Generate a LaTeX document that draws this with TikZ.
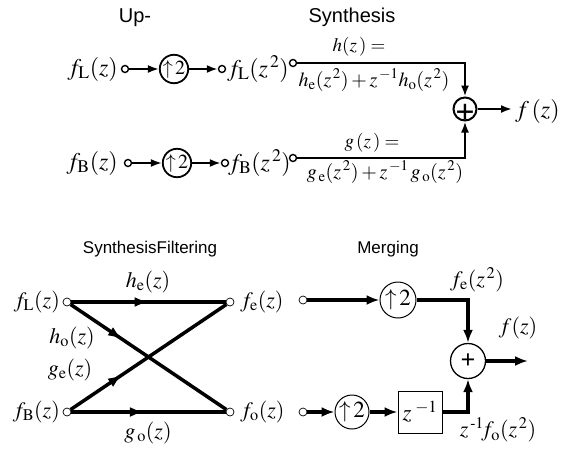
\documentclass[tikz,border=0pt]{standalone}
\usepackage{mathptmx}
\usepackage{fontspec}
\setmainfont{Liberation Serif}
\setsansfont{Liberation Sans}
\usetikzlibrary{arrows.meta,positioning,calc,decorations.markings}
\newcommand{\fsz}[1]{\fontsize{#1}{#1}\selectfont}
\tikzset{
  port/.style={circle,draw,fill=white,inner sep=0pt,minimum size=7pt,line width=1.4pt},
  thinport/.style={circle,draw,fill=white,inner sep=0pt,minimum size=8pt,line width=0.7pt},
  upsampler/.style={circle,draw,inner sep=0pt,minimum size=#1},
  flow/.style={-{Latex[length=11pt,width=8pt]},line width=2pt},
  heavyflow/.style={-{Latex[length=13pt,width=10pt]},line width=3.3pt},
  branch/.style={line width=3.5pt,postaction={decorate},
    decoration={markings,mark=at position #1 with {\arrow{Latex[length=14pt,width=10pt]}}}},
  heading/.style={font=\sffamily\fsz{20},inner sep=0pt,anchor=base},
  sig/.style={inner sep=0pt,font=\fsz{#1}}
}

\begin{document}
\begin{tikzpicture}[x=1pt,y=-1pt,
  adder/.style={circle,draw,inner sep=0pt,minimum size=#1},
  delaybox/.style={rectangle,draw,line width=1pt,minimum width=44pt,minimum height=42pt,inner sep=0pt}
]
  \useasboundingbox (0,0) rectangle (561,453);
  % up-sampling and synthesis
  \node[heading] (uptitle) at (135,22) {Up-};
  \node[heading] (syntitle) at (352,22) {Synthesis};
  \node[sig=24,anchor=east] (fLin) at (118,69) {$f_{\mathrm L}(z)$};
  \node[port] (pLin) at (125,69) {};
  \node[upsampler=28pt,line width=1.8pt,font=\fsz{20}] (upL) at (174,69) {$\uparrow\!2$};
  \node[port] (pLup) at (222,69) {};
  \node[sig=24,anchor=west] (fLup) at (227,69) {$f_{\mathrm L}(z^{\,2})$};
  \node[port] (pH) at (293,63) {};
  \node[sig=19] (hdef) at (359,47) {$h(z\,)=$};
  \node[sig=20] (hexpr) at (374,80) {$h_{\mathrm e}(z^{\,2})+z^{\,-1}h_{\mathrm o}(z^{\,2})$};
  \node[sig=24,anchor=east] (fBin) at (118,163) {$f_{\mathrm B}(z)$};
  \node[port] (pBin) at (128,163) {};
  \node[upsampler=28pt,line width=1.8pt,font=\fsz{20}] (upB) at (177,163) {$\uparrow\!2$};
  \node[port] (pBup) at (225,163) {};
  \node[sig=24,anchor=west] (fBup) at (228,163) {$f_{\mathrm B}(z^{\,2})$};
  \node[port] (pG) at (293,158) {};
  \node[sig=19] (gdef) at (372,143) {$g\,(z\,)=$};
  \node[sig=20] (gexpr) at (385,172) {$g_{\,\mathrm e}(z^{\,2})+z^{\,-1}\,g_{\,\mathrm o}(z^{\,2})$};
  \node[adder=23pt,line width=2pt] (sumtop) at (465,109) {\raisebox{-14pt}[0pt][0pt]{\scalebox{1.7}{\fsz{20}\textbf{+}}}};
  \coordinate (outtop) at (512,109);
  \node[sig=24,anchor=west] (ftop) at (515,111) {$f\,(z)$};
  \draw[flow] (pLin) -- (upL);
  \draw[flow] (upL) -- (pLup);
  \draw[flow] (pBin) -- (upB);
  \draw[flow] (upB) -- (pBup);
  \draw[flow] (pH) -| (sumtop);
  \draw[flow] (pG) -| (sumtop);
  \draw[flow] (sumtop) -- (outtop);
  % synthesis filtering
  \node[heading,font=\sffamily\fsz{17}] (filttitle) at (150,253) {SynthesisFiltering};
  \node[thinport] (pL) at (67,302) {};
  \node[sig=22,anchor=east] (fL) at (60,302) {$f_{\mathrm L}(z)$};
  \node[thinport] (pE) at (230,302) {};
  \node[sig=22,anchor=west] (fE) at (240,302) {$f_{\mathrm e}(z)$};
  \node[thinport] (pB) at (67,412) {};
  \node[sig=22,anchor=east] (fB) at (60,412) {$f_{\mathrm B}(z)$};
  \node[thinport] (pO) at (230,412) {};
  \node[sig=22,anchor=west] (fO) at (240,412) {$f_{\mathrm o}(z)$};
  \draw[branch=0.5] (pL) -- (pE);
  \draw[branch=0.33] (pL) -- (pO);
  \draw[branch=0.33] (pB) -- (pE);
  \draw[branch=0.47] (pB) -- (pO);
  \node[sig=22] (he) at (148,282) {$h_{\mathrm e}(z)$};
  \node[sig=22] (ho) at (72,338) {$h_{\mathrm o}(z)$};
  \node[sig=22] (ge) at (70,370) {$g_{\mathrm e}(z)$};
  \node[sig=22] (go) at (148,433) {$g_{\,\mathrm o}(z)$};
  % merging
  \node[heading,font=\sffamily\fsz{17}] (mergetitle) at (388,253) {Merging};
  \node[thinport] (pE2) at (303,300) {};
  \node[upsampler=36pt,line width=1pt,font=\fsz{23}] (upE) at (398,300) {$\uparrow\!2$};
  \node[thinport] (pO2) at (303,412) {};
  \node[upsampler=34pt,line width=1pt,font=\fsz{23}] (upO) at (352,412) {$\uparrow\!2$};
  \node[delaybox,font=\fsz{23}] (delay) at (420,412) {$z^{\;-1}$};
  \node[adder=35pt,line width=1.3pt] (sumbot) at (468,361) {\scalebox{1.3}{\fsz{20}\textbf{+}}};
  \coordinate (outbot) at (528,361);
  \node[sig=22] (fE2) at (477,280) {$f_{\mathrm e}(z^{\,2})$};
  \node[sig=22] (fbot) at (518,328) {$f(z)$};
  \node[sig=22] (fO2) at (498,430) {$z^{\,\mbox{\fsz{15}-}1}\!f_{\mathrm o}(z^{\,2})$};
  \draw[heavyflow] (pE2) -- (upE);
  \draw[heavyflow] (upE) -| (sumbot);
  \draw[heavyflow] (pO2) -- (upO);
  \draw[heavyflow] (upO) -- (delay);
  \draw[heavyflow] (delay) -| (sumbot);
  \draw[heavyflow] (sumbot) -- (outbot);
\end{tikzpicture}
\end{document}
